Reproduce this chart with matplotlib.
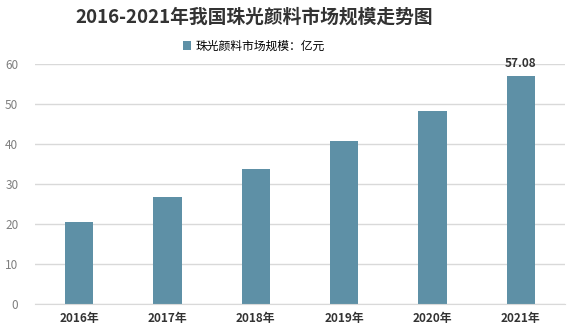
import matplotlib.pyplot as plt
import numpy as np

plt.rcParams['font.family'] = ['Noto Sans CJK SC', 'DejaVu Sans']

# data
years = ['2016年', '2017年', '2018年', '2019年', '2020年', '2021年']
market_size = [20.5, 26.75, 33.75, 40.75, 48.25, 57.08]
y_ticks = [0, 10, 20, 30, 40, 50, 60]

bar_color = '#5e90a6'

fig = plt.figure(figsize=(5.74, 3.32), dpi=100)
ax = fig.add_axes([35 / 574, 1 - 304 / 332, 530 / 574, 240 / 332])

x = np.arange(len(years))
bars = ax.bar(x, market_size, width=0.32, color=bar_color, zorder=2,
              label='珠光颜料市场规模：亿元')

ax.set_xlim(-0.5, len(years) - 0.5)
ax.set_ylim(0, 60)
ax.set_yticks(y_ticks)
ax.set_xticks(x)
ax.set_xticklabels(years, fontsize=8.5, fontweight='bold', color='#333333')
ax.tick_params(axis='y', labelsize=8.5, colors='#7f7f7f', length=0, pad=12)
ax.tick_params(axis='x', length=0, pad=6)
ax.grid(axis='y', color='#d9d9d9', linewidth=1, zorder=0)
for s in ['top', 'right', 'left']:
    ax.spines[s].set_visible(False)
ax.spines['bottom'].set_color('#d9d9d9')

# label on the last bar
ax.annotate(f'{market_size[-1]:.2f}', (x[-1], market_size[-1]),
            xytext=(0, 4), textcoords='offset points', ha='center', va='bottom',
            fontsize=8.5, fontweight='bold', color='#333333')

fig.text(254 / 574, 1 - 17 / 332, '2016-2021年我国珠光颜料市场规模走势图', ha='center', va='center',
         fontsize=13.5, fontweight='bold', color='#333333')
ax.legend(loc='center', bbox_to_anchor=(254 / 574, 1 - 46 / 332),
          bbox_transform=fig.transFigure, frameon=False, fontsize=8.5,
          handlelength=0.7, handleheight=0.7, handletextpad=0.4)

fig.savefig('out.png', dpi=100)
